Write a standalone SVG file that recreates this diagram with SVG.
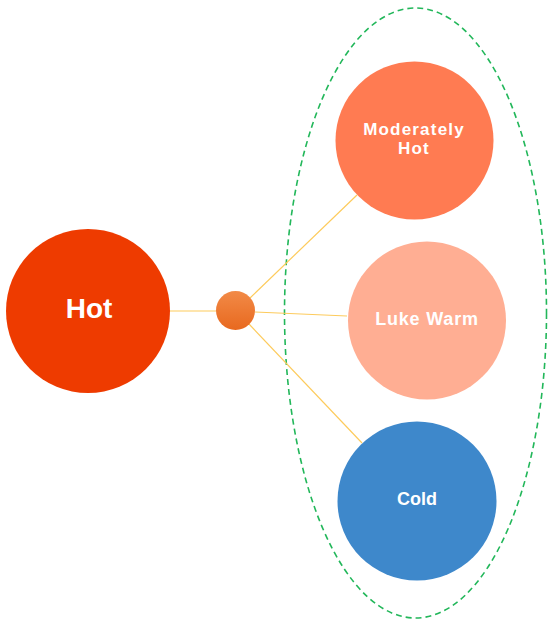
<svg xmlns="http://www.w3.org/2000/svg" width="549" height="620" viewBox="0 0 549 620">
<defs>
<linearGradient id="hub" x1="0" y1="0" x2="0" y2="1">
<stop offset="0" stop-color="#F28A47"/>
<stop offset="1" stop-color="#E8691F"/>
</linearGradient>
<style>
.lbl{font-family:"Liberation Sans",Arial,sans-serif;font-weight:bold;fill:#FFFFFF;text-anchor:middle}
.conn{stroke:#FDCB5C;stroke-width:1.2;fill:none}
</style>
</defs>
<rect width="549" height="620" fill="#FFFFFF"/>
<g id="group-boundary">
<ellipse cx="415.5" cy="313" rx="131" ry="305" fill="none" stroke="#22B75A" stroke-width="1.6" stroke-dasharray="6,4"/>
</g>
<g id="connectors">
<line class="conn" x1="170" y1="311" x2="216" y2="311"/>
<line class="conn" x1="250" y1="298" x2="357" y2="195"/>
<line class="conn" x1="255" y1="312" x2="347" y2="316"/>
<line class="conn" x1="249" y1="324" x2="362" y2="443"/>
</g>
<g id="hot">
<circle cx="88" cy="311" r="82" fill="#EE3B00"/>
<text class="lbl" x="89" y="318" font-size="28">Hot</text>
</g>
<g id="hub-node">
<circle cx="235.5" cy="310.5" r="19.5" fill="url(#hub)"/>
</g>
<g id="moderately-hot">
<circle cx="414.5" cy="140.5" r="79" fill="#FF7B52"/>
<text class="lbl" x="414" y="134.5" font-size="17" letter-spacing="1.2">Moderately</text>
<text class="lbl" x="414" y="153.5" font-size="17" letter-spacing="1.2">Hot</text>
</g>
<g id="luke-warm">
<circle cx="427" cy="320.5" r="79" fill="#FFAE93"/>
<text class="lbl" x="427" y="325" font-size="18" letter-spacing="0.8">Luke Warm</text>
</g>
<g id="cold">
<circle cx="417" cy="501" r="79.5" fill="#3E88CB"/>
<text class="lbl" x="417" y="505" font-size="18">Cold</text>
</g>
</svg>
